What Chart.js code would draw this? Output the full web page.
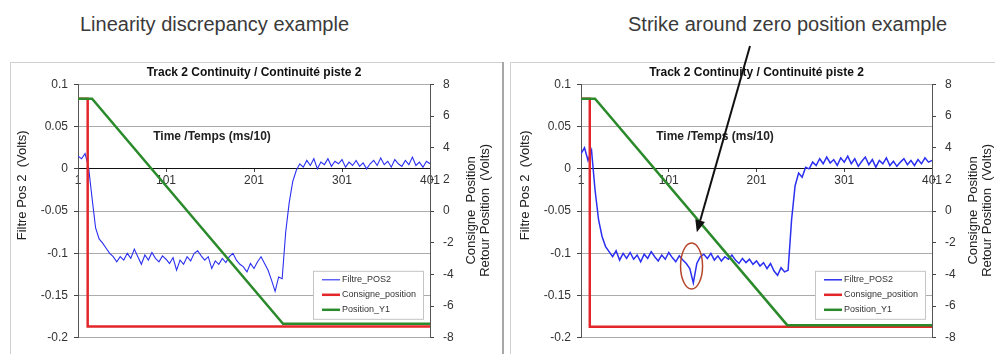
<!DOCTYPE html>
<html>
<head>
<meta charset="utf-8">
<script src="https://cdn.jsdelivr.net/npm/chart.js@4"></script>
<style>
  body { margin: 0; background: #fff; width: 995px; height: 354px; overflow: hidden; position: relative;
         font-family: "Liberation Sans", Arial, sans-serif; }
  .head { position: absolute; top: 13px; font-size: 20px; line-height: 23px; color: #3a3a3a; white-space: nowrap; }
  canvas { position: absolute; top: 0; }
  #left-chart { left: 0; }
  #right-chart { left: 500px; }
</style>
</head>
<body>
<div class="head" style="left:80px">Linearity discrepancy example</div>
<div class="head" style="left:628px">Strike around zero position example</div>
<canvas id="left-chart" width="505" height="354"></canvas>
<canvas id="right-chart" width="495" height="354"></canvas>
<script>
const chartTitle = 'Track 2 Continuity / Continuité piste 2';
const seriesNames = ['Filtre_POS2', 'Consigne_position', 'Position_Y1'];
const xTicks = [1, 101, 201, 301, 401];
const leftTicks = [0.1, 0.05, 0, -0.05, -0.1, -0.15, -0.2];
const rightTicks = [8, 6, 4, 2, 0, -2, -4, -6, -8];

// Filtre_POS2 is read every 4 samples (1, 5, 9 ... 401)
const sampleStep = 4;

const filtreLeft = [
  0.015, 0.012, 0.018, 0.002, -0.035, -0.07, -0.083, -0.088, -0.094, -0.1,
  -0.104, -0.11, -0.104, -0.108, -0.1, -0.106, -0.095, -0.104, -0.113, -0.102,
  -0.108, -0.099, -0.106, -0.11, -0.103, -0.107, -0.112, -0.105, -0.12, -0.108,
  -0.113, -0.104, -0.109, -0.1, -0.097, -0.103, -0.108, -0.104, -0.118, -0.109,
  -0.113, -0.106, -0.111, -0.104, -0.1, -0.108, -0.113, -0.116, -0.122, -0.112,
  -0.118, -0.11, -0.104, -0.112, -0.12, -0.132, -0.145, -0.128, -0.13, -0.075,
  -0.04, -0.015, -0.002, 0.006, 0.002, 0.01, 0.004, 0.012, 0.0, 0.008,
  0.005, 0.012, 0.003, 0.009, 0.006, 0.011, 0.002, 0.008, 0.004, 0.01,
  0.003, 0.007, 0.0, 0.006, 0.01, 0.004, 0.013, 0.005, 0.009, 0.002,
  0.011, 0.006, 0.003, 0.01, 0.005, 0.014, 0.004, 0.008, 0.002, 0.009,
  0.006
];

const filtreRight = [
  0.018, 0.025, 0.01, 0.022, -0.025, -0.06, -0.08, -0.092, -0.098, -0.104,
  -0.097, -0.108, -0.1, -0.106, -0.099, -0.107, -0.102, -0.11, -0.101, -0.106,
  -0.098, -0.104, -0.109, -0.102, -0.107, -0.099, -0.105, -0.11, -0.103, -0.108,
  -0.112, -0.118, -0.135, -0.112, -0.104, -0.101, -0.106, -0.1, -0.108, -0.103,
  -0.109, -0.104, -0.107, -0.102, -0.108, -0.112, -0.106, -0.111, -0.107, -0.113,
  -0.109, -0.115, -0.111, -0.118, -0.112, -0.121, -0.126, -0.117, -0.122, -0.12,
  -0.06, -0.02, -0.005, -0.01, 0.002, 0.0, 0.008, 0.004, 0.012, 0.006,
  0.014, 0.007, 0.011, 0.004, 0.013, 0.008, 0.015, 0.006, 0.012, 0.003,
  0.009, 0.014, 0.005, 0.011, 0.002, 0.01, 0.006, 0.013, 0.004, 0.009,
  0.003, 0.008, 0.012, 0.005, 0.01, 0.004, 0.011, 0.006, 0.013, 0.008,
  0.01
];

// Consigne_position / Position_Y1 corner points (time, volts)
const consigneLeftT = [1, 12, 12, 401];
const consigneLeftV = [7.1, 7.1, -7.28, -7.28];
const positionLeftT = [1, 17, 234, 401];
const positionLeftV = [7.1, 7.1, -7.12, -7.12];

const consigneRightT = [1, 11, 11, 401];
const consigneRightV = [7.1, 7.1, -7.3, -7.3];
const positionRightT = [1, 17, 236, 401];
const positionRightV = [7.1, 7.1, -7.2, -7.2];

Chart.defaults.font.family = '"Liberation Sans", Arial, sans-serif';
Chart.defaults.font.size = 12;
Chart.defaults.color = '#333';

const FONT = '"Liberation Sans", Arial, sans-serif';

const decor = {
  id: 'decor',
  beforeDraw(chart, args, o) {
    const ctx = chart.ctx;
    ctx.save();
    ctx.strokeStyle = '#cfcfcf';
    ctx.lineWidth = 1;
    ctx.beginPath();
    ctx.moveTo(o.frameLeft + 0.5, chart.height);
    ctx.lineTo(o.frameLeft + 0.5, 62.5);
    ctx.lineTo(o.frameRight, 62.5);
    ctx.stroke();
    if (o.frameEdge) {
      ctx.strokeStyle = '#a8a8a8';
      ctx.lineWidth = 2;
      ctx.beginPath();
      ctx.moveTo(o.frameRight - 1, 62);
      ctx.lineTo(o.frameRight - 1, chart.height);
      ctx.stroke();
    }
    ctx.restore();
  },
  afterDraw(chart, args, o) {
    const ctx = chart.ctx;
    const a = chart.chartArea;
    ctx.save();
    ctx.fillStyle = '#222';
    ctx.textAlign = 'center';
    ctx.textBaseline = 'middle';

    // axis titles
    ctx.font = 'bold 12px ' + FONT;
    ctx.fillText('Time /Temps (ms/10)', a.left + 134, a.top + 52);

    ctx.font = '13px ' + FONT;
    ctx.save();
    ctx.translate(a.left - 56, a.top + 101);
    ctx.rotate(-Math.PI / 2);
    ctx.fillText('Filtre Pos 2  (Volts)', 0, 0);
    ctx.restore();

    ctx.save();
    ctx.translate(a.right + 41, a.top + 126);
    ctx.rotate(-Math.PI / 2);
    ctx.fillText('Consigne  Position', 0, 0);
    ctx.fillText('Retour Position  (Volts)', 0, 14);
    ctx.restore();

    // legend box inside the plot
    const bx = a.right - 117, by = a.bottom - 67;
    ctx.fillStyle = '#fff';
    ctx.fillRect(bx, by, 110, 48);
    ctx.strokeStyle = '#c4c4c4';
    ctx.lineWidth = 1;
    ctx.strokeRect(bx + 0.5, by + 0.5, 110, 48);
    ctx.font = '9px ' + FONT;
    ctx.textAlign = 'left';
    chart.data.datasets.forEach((ds, i) => {
      const yy = by + 9 + i * 15;
      ctx.strokeStyle = ds.borderColor;
      ctx.lineWidth = Math.min(ds.borderWidth, 2.5);
      ctx.beginPath();
      ctx.moveTo(bx + 9, yy);
      ctx.lineTo(bx + 27, yy);
      ctx.stroke();
      ctx.fillStyle = '#333';
      ctx.fillText(ds.label, bx + 29, yy);
    });

    // annotations on the second chart
    if (o.strike) {
      const sx = chart.scales.x, sy = chart.scales.y;
      ctx.strokeStyle = '#b5452a';
      ctx.lineWidth = 1.5;
      ctx.beginPath();
      ctx.ellipse(sx.getPixelForValue(o.strike.t), sy.getPixelForValue(o.strike.v), o.strike.rx, o.strike.ry, 0, 0, Math.PI * 2);
      ctx.stroke();
    }
    if (o.arrow) {
      const sx = chart.scales.x, sy = chart.scales.y;
      const tx = sx.getPixelForValue(o.arrow.tipT), ty = sy.getPixelForValue(o.arrow.tipV);
      const ang = Math.atan2(ty - o.arrow.tailY, tx - o.arrow.tailX);
      const hl = 12, hw = 5;
      const bxh = tx - hl * Math.cos(ang), byh = ty - hl * Math.sin(ang);
      ctx.strokeStyle = '#111';
      ctx.fillStyle = '#111';
      ctx.lineWidth = 2;
      ctx.beginPath();
      ctx.moveTo(o.arrow.tailX, o.arrow.tailY);
      ctx.lineTo(bxh, byh);
      ctx.stroke();
      ctx.beginPath();
      ctx.moveTo(tx, ty);
      ctx.lineTo(bxh + hw * Math.sin(ang), byh - hw * Math.cos(ang));
      ctx.lineTo(bxh - hw * Math.sin(ang), byh + hw * Math.cos(ang));
      ctx.closePath();
      ctx.fill();
    }
    ctx.restore();
  }
};

function toPoints(times, values) {
  return times.map((t, i) => ({ x: t, y: values[i] }));
}

function buildChart(id, p) {
  return new Chart(document.getElementById(id), {
    type: 'line',
    data: {
      datasets: [
        {
          label: seriesNames[0],
          data: p.filtre.map((v, i) => ({ x: 1 + i * sampleStep, y: v })),
          borderColor: '#2a2ff0',
          borderWidth: p.blueWidth,
          yAxisID: 'y',
          order: 2
        },
        {
          label: seriesNames[1],
          data: toPoints(p.consT, p.consV),
          borderColor: '#e3262a',
          borderWidth: 2.5,
          yAxisID: 'y1',
          order: 1
        },
        {
          label: seriesNames[2],
          data: toPoints(p.posT, p.posV),
          borderColor: '#2b8a2b',
          borderWidth: 2.5,
          yAxisID: 'y1',
          order: 0
        }
      ]
    },
    options: {
      responsive: false,
      animation: false,
      events: [],
      layout: { padding: { top: 0, bottom: p.padBottom, left: 0, right: 0 } },
      elements: { point: { radius: 0 }, line: { tension: 0 } },
      scales: {
        x: {
          type: 'linear',
          position: { y: 0 },
          min: 1,
          max: 401,
          afterBuildTicks: s => { s.ticks = xTicks.map(v => ({ value: v })); },
          grid: { drawOnChartArea: false, tickLength: 3, tickColor: '#444' },
          border: { color: '#111' },
          ticks: { padding: 2, maxRotation: 0, autoSkip: false, callback: v => String(v) }
        },
        y: {
          position: 'left',
          min: -0.2,
          max: 0.1,
          afterBuildTicks: s => { s.ticks = leftTicks.map(v => ({ value: v })); },
          afterFit: s => { s.width = p.leftW; },
          grid: { color: '#ababab', tickLength: 4, tickColor: '#444' },
          border: { color: '#555' },
          ticks: { padding: 6, callback: v => String(+v.toFixed(2)) }
        },
        y1: {
          position: 'right',
          min: -8,
          max: 8,
          afterBuildTicks: s => { s.ticks = rightTicks.map(v => ({ value: v })); },
          afterFit: s => { s.width = p.rightW; },
          grid: { drawOnChartArea: false, tickLength: 4, tickColor: '#444' },
          border: { color: '#555' },
          ticks: { padding: 9 }
        }
      },
      plugins: {
        legend: { display: false },
        tooltip: { enabled: false },
        title: {
          display: true,
          fullSize: false,
          text: chartTitle,
          color: '#111',
          font: { size: 12, weight: 'bold' },
          padding: { top: 65, bottom: 5 }
        },
        decor: p.decor
      }
    },
    plugins: [decor]
  });
}

buildChart('left-chart', {
  filtre: filtreLeft, blueWidth: 1.1,
  consT: consigneLeftT, consV: consigneLeftV,
  posT: positionLeftT, posV: positionLeftV,
  leftW: 78, rightW: 75, padBottom: 9,
  decor: { frameLeft: 10, frameRight: 504, frameEdge: true }
});

buildChart('right-chart', {
  filtre: filtreRight, blueWidth: 1.5,
  consT: consigneRightT, consV: consigneRightV,
  posT: positionRightT, posV: positionRightV,
  leftW: 81, rightW: 63, padBottom: 8,
  decor: {
    frameLeft: 10, frameRight: 495, frameEdge: false,
    strike: { t: 127, v: -0.115, rx: 11, ry: 23 },
    arrow: { tailX: 250, tailY: 46, tipT: 133, tipV: -0.075 }
  }
});
</script>
</body>
</html>
